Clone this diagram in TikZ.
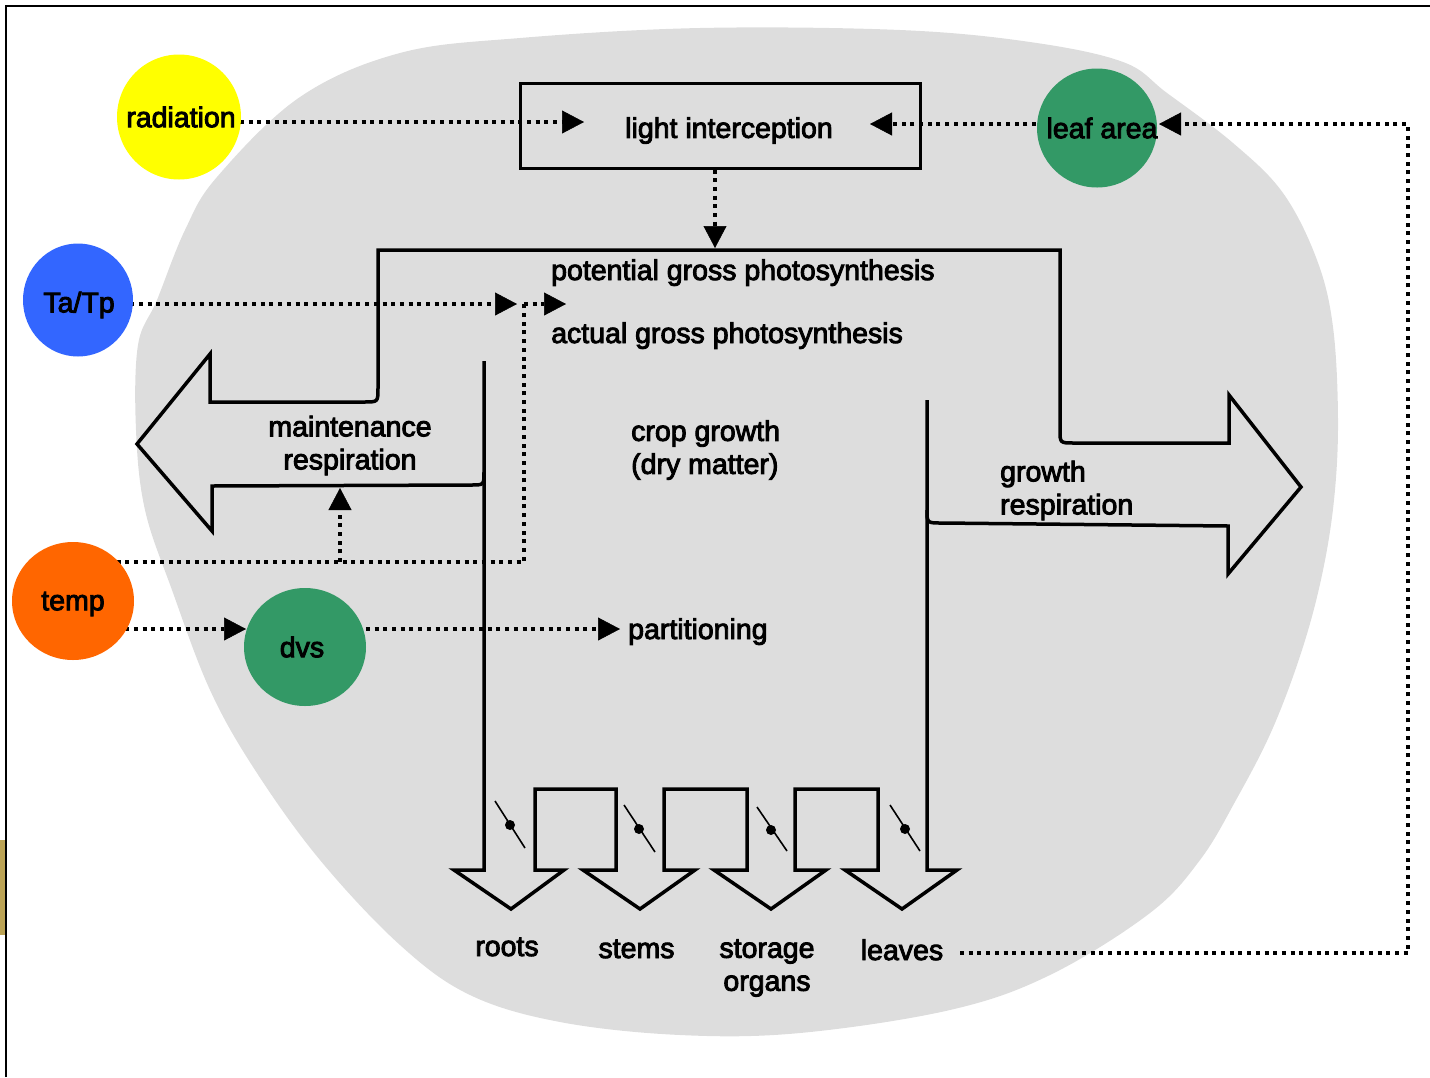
\documentclass[tikz,border=0pt]{standalone}
\usepackage{fontspec}
\setmainfont{Liberation Sans}
\usetikzlibrary{arrows.meta,shapes.geometric}
\definecolor{blobgray}{RGB}{221,221,221}
\definecolor{goldbar}{RGB}{187,163,85}
\definecolor{radyellow}{RGB}{255,255,0}
\definecolor{tblue}{RGB}{51,102,255}
\definecolor{torange}{RGB}{255,102,0}
\definecolor{tgreen}{RGB}{51,153,102}
\newcommand\heavytext{\special{pdf:literal direct 2 Tr 0.9 w 0 G}}
\pgfdeclarelayer{back}
\pgfdeclarelayer{mid}
\pgfsetlayers{back,mid,main}
\begin{document}
\begin{tikzpicture}[x=1pt,y=-1pt,
  lbl/.style={font=\fontsize{28.5}{33}\selectfont\heavytext, inner sep=0pt},
  disc/.style={ellipse, inner sep=0pt, draw=none},
  flow/.style={line width=3.5pt, line join=miter},
  dots/.style={line width=4pt, dash pattern=on 4pt off 4.7pt},
  tip/.style={-{Triangle[length=22pt,width=23pt,line width=0.5pt]}},
  valve/.style={line width=1.6pt}]
\useasboundingbox (0,0) rectangle (1430,1077);

\begin{pgfonlayer}{back}
\fill[blobgray] plot[smooth cycle, tension=0.6] coordinates {
 (217,177) (300,97) (400,53) (520,38) (700,28) (900,30) (1030,42) (1123,62)
 (1167,93) (1233,143) (1283,193) (1317,260) (1333,327) (1338,420) (1334,500)
 (1322,575) (1302,650) (1272,730) (1236,800) (1200,860) (1150,913) (1050,975)
 (950,1010) (800,1033) (680,1035) (560,1022) (470,995) (400,945) (320,860)
 (255,770) (210,690) (172,590) (145,510) (136,430) (138,345) (157,300) (185,230)};
\end{pgfonlayer}

\fill[goldbar] (0,840) rectangle (5,935);
\draw[line width=2pt] (6,1077) -- (6,6) -- (1430,6);

% circles and box
\node[disc, fill=radyellow, minimum width=124pt, minimum height=125pt,
      label={[lbl,xshift=2pt]center:radiation}] (rad) at (179,117) {};
\node[disc, fill=tblue, minimum width=110pt, minimum height=113pt,
      label={[lbl,xshift=1pt,yshift=-5pt]center:Ta/Tp}] (tatp) at (78,300) {};
\node[disc, fill=torange, minimum width=122pt, minimum height=118pt,
      label={[lbl,yshift=-3pt]center:temp}] (temp) at (73,601) {};
\node[disc, fill=tgreen, minimum width=122pt, minimum height=118pt,
      label={[lbl,xshift=-3pt]center:dvs}] (dvs) at (305,647) {};
\node[disc, fill=tgreen, minimum width=120pt, minimum height=119pt,
      label={[lbl,xshift=5pt]center:leaf area}] (leaf) at (1097,128) {};
\node[draw, line width=3pt, minimum width=400pt, minimum height=85pt, inner sep=0pt,
      label={[lbl,xshift=8.5pt,yshift=-5pt]center:light interception}] (li) at (720.5,125.5) {};

% texts
\node[lbl, anchor=base west] (pgp) at (551,280) {potential gross photosynthesis};
\node[lbl, anchor=base west] (agp) at (551,343) {actual gross photosynthesis};
\node[lbl, align=center] (mr) at (350,445.5) {maintenance\\respiration};
\node[lbl, align=left, anchor=west] (cg) at (631,450) {crop growth\\(dry matter)};
\node[lbl, align=left, anchor=west] (gr) at (1000,490.5) {growth\\respiration};
\node[lbl, anchor=base west] (part) at (628,639) {partitioning};
\node[lbl, anchor=base] (roots) at (507,956) {roots};
\node[lbl, anchor=base] (stems) at (636.5,958) {stems};
\node[lbl, align=center] (storage) at (767,968) {storage\\organs};
\node[lbl, anchor=base] (leaves) at (902,960) {leaves};

% connector end points
\coordinate (radin) at (584,122);
\coordinate (lain) at (870,124);
\coordinate (pgpin) at (715,248);
\coordinate (tatpin) at (517,304);
\coordinate (tj) at (524,304);
\coordinate (agpin) at (566,304);
\coordinate (tc) at (524,562);
\coordinate (mrj) at (340,562);
\coordinate (mrin) at (340,488);
\coordinate (dvsin) at (246,629);
\coordinate (partin) at (620,629);
\coordinate (lvout) at (960,953);
\coordinate (fbk1) at (1408,953);
\coordinate (fbk2) at (1408,124);
\coordinate (leafin) at (1159,124);

\begin{pgfonlayer}{mid}
\draw[dots,tip] (rad.center |- radin) -- (radin);
\draw[dots,tip] (leaf.center |- lain) -- (lain);
\draw[dots,tip] (li.south -| pgpin) -- (pgpin);
\draw[dots,tip] (tatp.center |- tatpin) -- (tatpin);
\draw[dots,tip] (tj) -- (agpin);
\draw[dots] (temp.center |- tc) -- (tc) -- (tj);
\draw[dots,tip] (mrj) -- (mrin);
\draw[dots,tip] (temp.center |- dvsin) -- (dvsin);
\draw[dots,tip] (dvs.center |- partin) -- (partin);
\draw[dots,tip] (lvout) -- (fbk1) -- (fbk2) -- (leafin);
\end{pgfonlayer}

% big flow outline
\draw[flow] (484,472) .. controls (484,485) .. (471,485) -- (212,486) -- (212,531)
  -- (137,444) -- (210,354) -- (210,402) -- (364,402) .. controls (378,402) .. (378,388)
  -- (378,250) -- (1060,250) -- (1060,430) .. controls (1060,443) .. (1074,443)
  -- (1229,443) -- (1229,395) -- (1301,487) -- (1228,574) -- (1228,526)
  -- (942,523) .. controls (927,523) .. (927,510);

% partitioning arrows
\draw[flow] (484,361) -- (484,870) -- (454,870) -- (511,909) -- (564,870) -- (535,870)
  -- (535,789) -- (616,789) -- (616,870) -- (583,870) -- (640,909) -- (695,870)
  -- (664,870) -- (664,789) -- (747,789) -- (747,870) -- (714,870) -- (771,909)
  -- (826,870) -- (795,870) -- (795,789) -- (878,789) -- (878,870) -- (845,870)
  -- (902,909) -- (957,870) -- (927,870) -- (927,400);

% valves
\draw[valve] (495,801) -- (525,848);
\fill (510,825) circle (5pt);
\draw[valve] (624,805) -- (655,852);
\fill (639,829) circle (5pt);
\draw[valve] (757,807) -- (787,851);
\fill (771,830) circle (5pt);
\draw[valve] (890,805) -- (920,851);
\fill (905,829) circle (5pt);
\end{tikzpicture}
\end{document}
